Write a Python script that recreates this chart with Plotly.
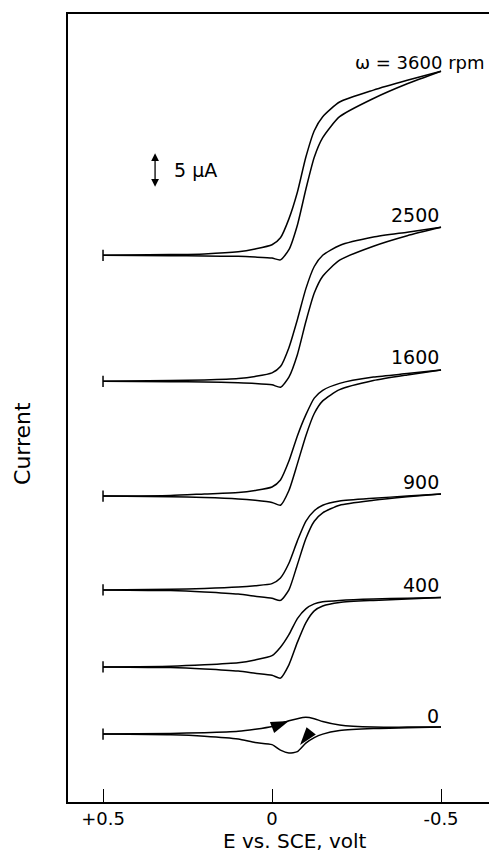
import plotly.graph_objects as go

# Potential grid (V vs SCE)
E = [0.5, 0.3, 0.2, 0.1, 0.05, 0.0, -0.025, -0.05, -0.075, -0.1, -0.125, -0.15, -0.2, -0.3, -0.4, -0.5]

rpm_labels = ["ω = 3600 rpm", "2500", "1600", "900", "400", "0"]
# vertical offsets of each trace baseline (µA)
offsets_uA = [78.1, 60.1, 43.7, 30.3, 19.3, 9.7]

# currents (µA, relative to baseline), upper/lower branches
i3600_a = [0, 0.1, 0.2, 0.5, 0.9, 1.5, 2.5, 5.2, 9.0, 14.0, 17.8, 19.8, 21.9, 23.6, 25.0, 26.3]
i3600_b = [0, -0.05, -0.1, -0.15, -0.25, -0.4, -0.65, 0.8, 4.3, 9.4, 14.0, 16.8, 19.8, 22.4, 24.5, 26.3]
i2500_a = [0, 0.1, 0.2, 0.4, 0.7, 1.2, 2.1, 4.8, 8.8, 13.2, 16.4, 18.0, 19.4, 20.6, 21.3, 22.0]
i2500_b = [0, -0.05, -0.1, -0.2, -0.3, -0.5, -0.85, 0.6, 3.8, 8.5, 12.6, 15.0, 17.3, 19.3, 20.8, 22.0]
i1600_a = [0, 0.1, 0.3, 0.5, 0.8, 1.3, 2.3, 5.0, 8.6, 11.6, 14.0, 15.1, 16.1, 17.0, 17.5, 18.0]
i1600_b = [0, -0.1, -0.2, -0.4, -0.6, -0.9, -1.3, 0.8, 4.6, 8.6, 11.8, 13.6, 15.2, 16.5, 17.3, 18.0]
i900_a = [0, 0.1, 0.2, 0.4, 0.6, 0.9, 1.7, 3.8, 7.0, 9.8, 11.3, 12.1, 12.7, 13.1, 13.4, 13.7]
i900_b = [0, -0.1, -0.3, -0.6, -0.9, -1.2, -1.5, 0.0, 3.6, 7.3, 9.8, 11.0, 12.1, 12.8, 13.3, 13.7]
i400_a = [0, 0.1, 0.3, 0.6, 1.0, 1.6, 2.8, 4.6, 6.9, 8.3, 9.0, 9.3, 9.5, 9.7, 9.8, 9.9]
i400_b = [0, -0.1, -0.3, -0.6, -0.9, -1.2, -1.6, 0.3, 3.5, 6.3, 8.0, 8.7, 9.2, 9.5, 9.7, 9.9]
i0_a = [0, 0.1, 0.2, 0.4, 0.7, 1.1, 1.5, 1.9, 2.2, 2.4, 2.2, 1.8, 1.3, 1.0, 1.0, 1.0]
i0_b = [0, -0.1, -0.3, -0.7, -1.2, -1.5, -2.3, -2.7, -2.5, -1.3, -0.5, 0.0, 0.5, 0.8, 0.9, 1.0]

branches = [(i3600_a, i3600_b), (i2500_a, i2500_b), (i1600_a, i1600_b),
            (i900_a, i900_b), (i400_a, i400_b), (i0_a, i0_b)]

FONT = "DejaVu Sans"
fig = go.Figure()

for (ia, ib), off in zip(branches, offsets_uA):
    for br in (ia, ib):
        fig.add_trace(go.Scatter(x=E, y=[v + off for v in br], mode="lines",
                                 line=dict(color="black", width=1.5, shape="spline", smoothing=0.6),
                                 hoverinfo="skip", showlegend=False))
    fig.add_trace(go.Scatter(x=[E[0]], y=[off], mode="markers",
                             marker=dict(symbol="line-ns", size=8, line=dict(color="black", width=1.5)),
                             hoverinfo="skip", showlegend=False))

# sweep-direction arrowheads on the 0 rpm voltammogram (tip position, screen angle clockwise from up)
for ax_, ay_, ang in [(-0.050, 11.57, 69), (-0.083, 8.14, 218)]:
    fig.add_trace(go.Scatter(x=[ax_], y=[ay_], mode="markers",
                             marker=dict(symbol="arrow", size=19, angle=ang, color="black",
                                         line=dict(width=0)),
                             hoverinfo="skip", showlegend=False))

annotations = []
# rotation rate labels
label_pos_y = [105.7, 83.9, 63.6, 45.7, 31.0, 12.3]
for i, (lab, ly) in enumerate(zip(rpm_labels, label_pos_y)):
    annotations.append(dict(x=(-0.636 if i == 0 else -0.5), y=ly, xref="x", yref="y",
                            text=lab, showarrow=False, xanchor="right", yanchor="middle",
                            font=dict(family=FONT, size=(18 if i == 0 else 19), color="black")))

# 5 µA scale bar
annotations.append(dict(x=0.346, y=87.9, ax=0.346, ay=92.9, xref="x", yref="y", axref="x", ayref="y",
                        text="", showarrow=True, arrowside="end+start", arrowhead=2,
                        arrowsize=1.2, arrowwidth=1.3, arrowcolor="black"))
annotations.append(dict(x=0.296, y=90.3, xref="x", yref="y", text="5 μA", showarrow=False,
                        xanchor="left", yanchor="middle", font=dict(family=FONT, size=19, color="black")))

# axis titles
annotations.append(dict(x=0.539, y=-0.0675, xref="paper", yref="paper", text="E vs. SCE, volt",
                        showarrow=False, xanchor="center", yanchor="bottom",
                        font=dict(family=FONT, size=20, color="black")))
annotations.append(dict(x=-0.107, y=0.4556, xref="paper", yref="paper", text="Current", textangle=-90,
                        showarrow=False, xanchor="center", yanchor="middle",
                        font=dict(family=FONT, size=22, color="black")))

fig.update_layout(
    width=489, height=856,
    margin=dict(l=68, r=0, t=14, b=54),
    paper_bgcolor="white", plot_bgcolor="white",
    annotations=annotations,
    xaxis=dict(range=[0.6036, -0.642], showgrid=False, zeroline=False,
               showline=True, linecolor="black", linewidth=1.5, mirror=True,
               tickvals=[0.5, 0, -0.5], ticktext=["+0.5", "0", "-0.5"],
               ticks="inside", ticklen=13, tickwidth=1.3, tickcolor="black",
               tickfont=dict(family=FONT, size=18, color="black")),
    yaxis=dict(range=[0, 112.57], showgrid=False, zeroline=False,
               showline=True, linecolor="black", linewidth=1.5, mirror=False,
               showticklabels=False, ticks=""),
)

fig.write_html("out.html")
